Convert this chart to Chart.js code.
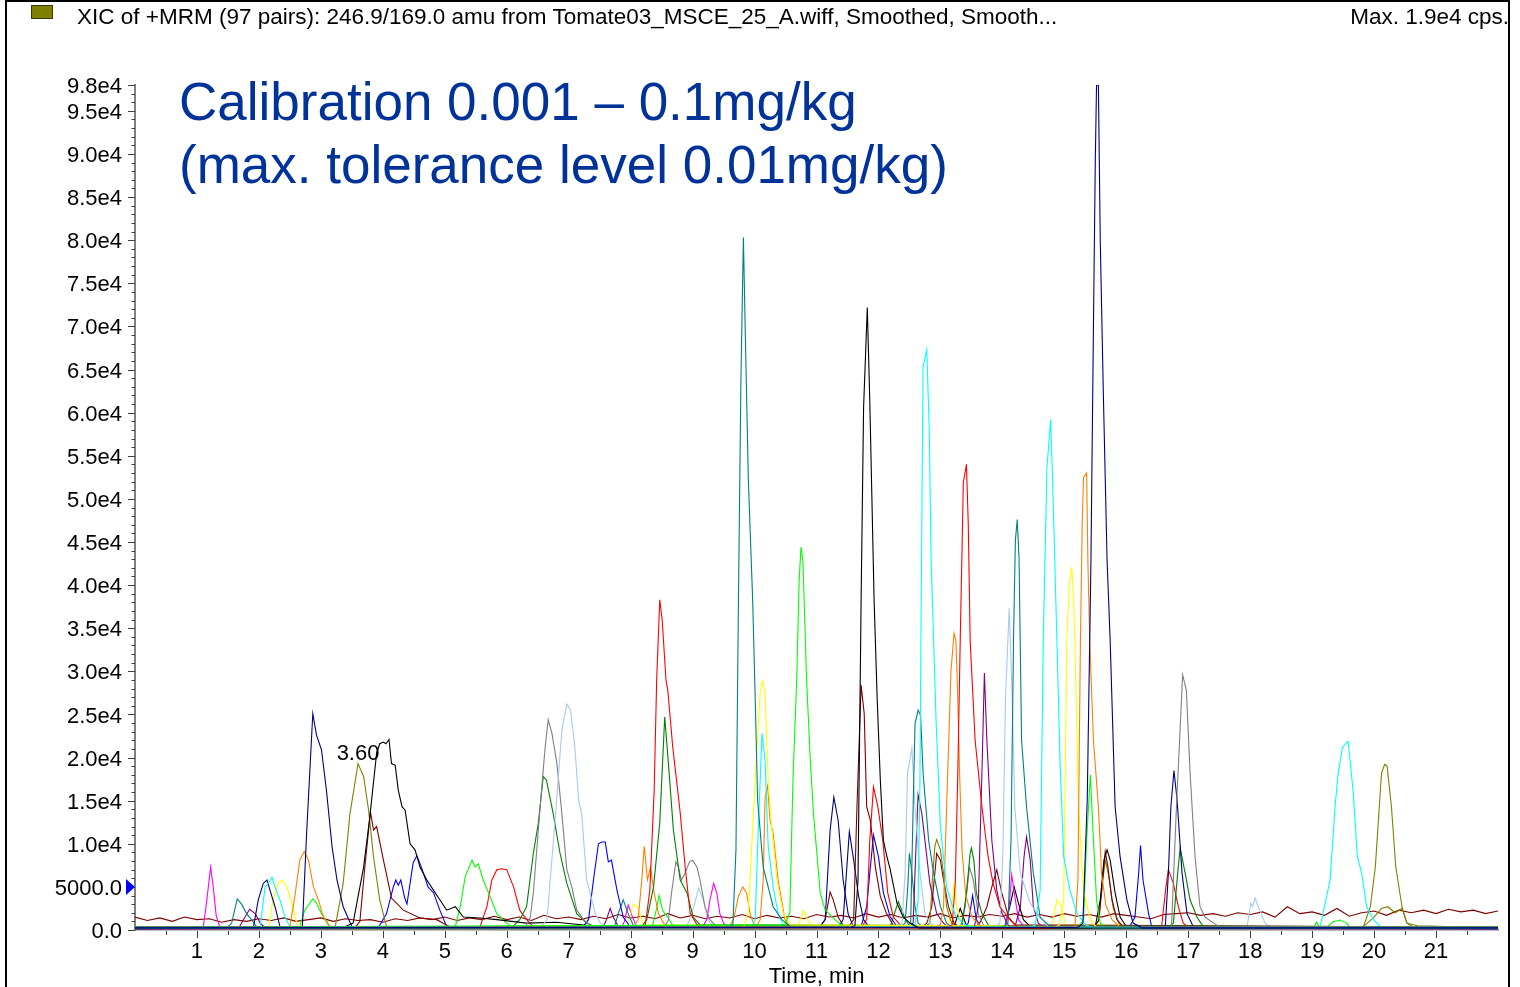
<!DOCTYPE html>
<html>
<head>
<meta charset="utf-8">
<title>XIC of +MRM (97 pairs)</title>
<script src="https://cdn.jsdelivr.net/npm/chart.js@4.4.1/dist/chart.umd.min.js"></script>
<style>
  html, body { margin: 0; padding: 0; background: #fff; overflow: hidden; }
  body { width: 1520px; height: 987px; position: relative; font-family: "Liberation Sans", Arial, sans-serif; }
  #frame { position: absolute; left: 5px; top: 0; width: 1501px; height: 1000px; border: 2px solid #000; box-sizing: content-box; pointer-events: none; }
  #chart { position: absolute; left: 0; top: 0; }
  #swatch { position: absolute; left: 31px; top: 5px; width: 20px; height: 12px; background: #808000; border: 1px solid #3a3a00; }
  .head { position: absolute; top: 6px; font-size: 22.5px; line-height: 22px; color: #000; white-space: nowrap; }
  #headLeft { left: 77px; }
  #headRight { right: 11px; }
  #bigTitle { position: absolute; left: 179px; top: 71px; font-size: 53px; line-height: 62.6px; color: #003399; white-space: nowrap; }
</style>
</head>
<body>
<canvas id="chart" width="1520" height="987"></canvas>
<div id="frame"></div>
<div id="swatch"></div>
<div class="head" id="headLeft">XIC of +MRM (97 pairs): 246.9/169.0 amu from Tomate03_MSCE_25_A.wiff, Smoothed, Smooth...</div>
<div class="head" id="headRight">Max. 1.9e4 cps.</div>
<div id="bigTitle">Calibration 0.001 – 0.1mg/kg<br>(max. tolerance level 0.01mg/kg)</div>
<script>
// ---- axis ticks ----
const xTickValues = [1,2,3,4,5,6,7,8,9,10,11,12,13,14,15,16,17,18,19,20,21];
const xTickLabels = ['1','2','3','4','5','6','7','8','9','10','11','12','13','14','15','16','17','18','19','20','21'];
const yTickValues = [0,5000,10000,15000,20000,25000,30000,35000,40000,45000,50000,55000,60000,65000,70000,75000,80000,85000,90000,95000,98000];
const yTickLabels = ['0.0','5000.0','1.0e4','1.5e4','2.0e4','2.5e4','3.0e4','3.5e4','4.0e4','4.5e4','5.0e4','5.5e4','6.0e4','6.5e4','7.0e4','7.5e4','8.0e4','8.5e4','9.0e4','9.5e4','9.8e4'];
const thresholdLevel = 5000;

// ---- extracted ion chromatograms: [time (min), intensity (cps)] ----
const pkMagenta122 = [[0,200],[1.10,250],[1.16,3500],[1.22,7300],[1.26,5200],[1.31,1700],[1.37,300],[22,200]];
const pkTeal165 = [[0,300],[1.50,350],[1.56,800],[1.65,3600],[1.72,3000],[1.80,1900],[1.88,1200],[1.96,400],[22,300]];
const pkPurple185 = [[0,250],[1.68,300],[1.75,1200],[1.85,2400],[1.94,1900],[2.02,800],[2.10,300],[22,250]];
const pkNavy213 = [[0,200],[1.91,250],[1.99,3500],[2.07,5400],[2.13,5800],[2.18,4600],[2.26,2700],[2.34,400],[22,200]];
const pkCyan221 = [[0,300],[2.02,400],[2.10,5000],[2.17,5600],[2.21,6100],[2.26,5000],[2.34,3500],[2.42,1500],[2.50,400],[22,300]];
const pkYellow238 = [[0,200],[2.15,200],[2.23,3500],[2.31,5400],[2.38,5800],[2.45,5000],[2.53,3100],[2.61,800],[2.70,200],[22,200]];
const pkOrange273 = [[0,250],[2.50,400],[2.58,3900],[2.66,8100],[2.73,9100],[2.80,8100],[2.88,5000],[2.96,3500],[3.04,1500],[3.15,250],[22,250]];
const pkLime287 = [[0,200],[2.66,400],[2.74,2300],[2.87,3600],[2.93,3100],[3.01,1900],[3.15,400],[22,200]];
const pkNavy287 = [[0,150],[2.70,200],[2.77,11200],[2.87,25100],[2.93,22600],[3.01,20900],[3.09,16200],[3.18,9700],[3.26,5800],[3.36,2700],[3.50,400],[22,150]];
const pkOlive360 = [[0,300],[3.23,300],[3.36,5400],[3.47,13500],[3.60,19300],[3.69,17800],[3.77,13900],[3.85,8500],[3.95,3500],[4.06,400],[22,300]];
const pkBlack405 = [[0,200],[3.30,200],[3.36,300],[3.52,800],[3.69,7300],[3.79,13100],[3.90,20500],[3.95,21600],[4.01,21800],[4.05,21600],[4.10,22100],[4.14,19300],[4.20,19100],[4.25,16200],[4.31,14300],[4.36,13900],[4.44,10000],[4.52,9300],[4.60,7300],[4.71,5800],[4.82,4600],[4.92,3500],[5.03,2300],[5.17,2700],[5.30,1500],[5.57,1400],[5.84,1200],[6.32,800],[6.80,900],[7.20,600],[7.60,300],[22,200]];
const pkMaroon380 = [[0,200],[3.55,250],[3.63,1000],[3.71,7300],[3.80,13700],[3.85,11600],[3.90,12000],[4.01,8100],[4.14,3700],[4.33,2300],[4.60,1400],[4.87,1200],[5.10,300],[22,200]];
const pkBlue455 = [[0,300],[3.93,300],[4.06,1900],[4.17,5000],[4.21,5800],[4.25,5200],[4.29,5800],[4.35,3800],[4.39,3000],[4.49,7800],[4.55,8600],[4.60,7700],[4.66,6500],[4.73,5000],[4.82,4300],[4.92,2300],[5.03,400],[22,300]];
const pkLime544 = [[0,200],[5.10,200],[5.17,400],[5.25,2700],[5.33,6200],[5.44,8100],[5.49,7300],[5.54,7700],[5.62,5800],[5.73,3900],[5.84,1900],[6.00,800],[6.11,200],[22,200]];
const pkRed592 = [[0,250],[5.50,300],[5.57,400],[5.68,2700],[5.76,5800],[5.84,7000],[5.92,7100],[6.00,7000],[6.11,5000],[6.21,2300],[6.32,1200],[6.43,400],[22,250]];
const pkGreen659 = [[0,300],[6.10,400],[6.21,1200],[6.32,2700],[6.43,8900],[6.51,12400],[6.59,17800],[6.64,17400],[6.75,13500],[6.86,8900],[6.97,5400],[7.13,1900],[7.29,800],[7.45,300],[22,300]];
const pkGray667 = [[0,200],[6.30,300],[6.38,1500],[6.43,4300],[6.54,14300],[6.62,21200],[6.67,24400],[6.73,22800],[6.81,19300],[6.89,13500],[6.97,7000],[7.05,5000],[7.13,2300],[7.24,1200],[7.40,300],[22,200]];
const pkSky697 = [[0,250],[6.55,300],[6.65,1200],[6.78,12700],[6.89,23200],[6.97,26200],[7.03,25500],[7.10,21200],[7.16,15100],[7.21,13500],[7.29,5800],[7.43,1900],[7.51,800],[7.65,250],[22,250]];
const pkBlue755 = [[0,200],[7.22,300],[7.32,1200],[7.40,5800],[7.48,10000],[7.53,10200],[7.59,10200],[7.64,7900],[7.69,8100],[7.78,4600],[7.88,1500],[7.99,400],[22,200]];
const pkPurple767 = [[0,200],[7.55,250],[7.61,1200],[7.67,2500],[7.72,1500],[7.80,400],[22,200]];
const pkTeal788 = [[0,300],[7.74,400],[7.80,1900],[7.88,3500],[7.96,1900],[8.05,400],[22,300]];
const pkMagenta796 = [[0,150],[7.85,200],[7.90,1000],[7.96,2900],[8.03,1500],[8.10,300],[22,150]];
const pkYellow804 = [[0,200],[7.95,500],[8.04,3000],[8.12,2600],[8.20,600],[22,200]];
const pkOrange822 = [[0,250],[8.05,300],[8.12,1200],[8.18,5800],[8.22,9700],[8.27,5800],[8.32,7300],[8.38,4300],[8.45,1900],[8.53,800],[8.65,250],[22,250]];
const pkRed847 = [[0,200],[8.23,200],[8.31,4600],[8.38,16200],[8.42,29000],[8.47,38300],[8.51,35900],[8.57,29000],[8.60,27800],[8.68,21200],[8.80,13600],[8.88,7300],[8.96,2000],[9.07,600],[9.20,200],[22,200]];
const pkGreen855 = [[0,350],[8.18,400],[8.26,1200],[8.37,5000],[8.47,12400],[8.55,24700],[8.61,19300],[8.69,11600],[8.80,5800],[8.91,4300],[9.01,1500],[9.12,600],[22,350]];
const pkLime846 = [[0,150],[8.35,400],[8.42,2500],[8.46,4000],[8.52,2200],[8.60,1500],[8.70,300],[22,150]];
const pkGray873 = [[0,250],[8.55,300],[8.61,1200],[8.66,4300],[8.73,7900],[8.77,7300],[8.82,5800],[8.88,6600],[8.95,7900],[9.00,8100],[9.07,7300],[9.12,5800],[9.20,2700],[9.28,1200],[9.40,300],[22,250]];
const pkSky910 = [[0,200],[8.90,300],[8.99,1900],[9.10,4900],[9.17,3500],[9.25,1200],[9.35,300],[22,200]];
const pkMagenta934 = [[0,150],[9.15,250],[9.23,1200],[9.28,3500],[9.34,5400],[9.39,4300],[9.44,1900],[9.50,800],[9.60,200],[22,150]];
const pkOrange981 = [[0,250],[9.58,300],[9.66,1200],[9.74,3900],[9.81,5000],[9.87,4300],[9.93,1900],[9.98,800],[10.08,300],[22,250]];
const pkTeal982 = [[0,300],[9.60,350],[9.65,600],[9.70,9300],[9.74,38200],[9.78,63700],[9.82,80300],[9.85,69500],[9.90,52200],[9.97,38200],[10.01,27000],[10.05,15000],[10.14,7300],[10.30,2700],[10.44,1200],[10.60,300],[22,300]];
const pkYellow1013 = [[0,200],[9.82,300],[9.90,2000],[10.01,17400],[10.09,27500],[10.13,28900],[10.17,27500],[10.22,17400],[10.28,11600],[10.36,5800],[10.46,2000],[10.57,600],[22,200]];
const pkCyan1012 = [[0,250],[9.95,300],[10.01,1200],[10.06,11600],[10.12,22800],[10.17,19700],[10.22,9700],[10.30,5000],[10.38,1900],[10.48,300],[22,250]];
const pkOrange1021 = [[0,200],[10.02,300],[10.09,1200],[10.14,5800],[10.17,15400],[10.21,16700],[10.25,12700],[10.30,11200],[10.38,5800],[10.49,1200],[10.60,200],[22,200]];
const pkLime1075 = [[0,300],[10.49,600],[10.57,2000],[10.62,17400],[10.68,29000],[10.72,40600],[10.75,44400],[10.78,42900],[10.84,29000],[10.90,19700],[10.95,13600],[11.06,4300],[11.14,2300],[11.30,1200],[11.45,300],[22,300]];
const pkYellow1079 = [[0,150],[10.70,300],[10.79,2300],[10.87,1000],[10.95,300],[22,150]];
const pkMaroon1122 = [[0,200],[11.05,300],[11.14,1200],[11.22,4400],[11.27,3500],[11.35,1500],[11.45,300],[22,200]];
const pkNavy1128 = [[0,250],[11.05,300],[11.14,1200],[11.22,11600],[11.28,15400],[11.35,12700],[11.43,5800],[11.51,1900],[11.60,300],[22,250]];
const pkNavy1153 = [[0,150],[11.35,250],[11.43,1200],[11.49,7300],[11.53,11400],[11.60,8100],[11.68,3900],[11.76,1200],[11.86,250],[22,150]];
const pkMaroon1172 = [[0,300],[11.52,400],[11.60,1200],[11.65,13600],[11.72,28400],[11.77,25100],[11.81,14300],[11.87,12700],[11.95,7300],[12.03,3900],[12.13,1900],[12.25,400],[22,300]];
const pkBlack1182 = [[0,250],[11.55,300],[11.62,500],[11.67,5800],[11.72,38200],[11.76,60600],[11.82,72200],[11.86,61400],[11.93,38200],[11.98,26700],[12.03,17400],[12.08,10400],[12.13,8700],[12.19,7000],[12.30,3100],[12.40,1500],[12.51,800],[12.65,250],[22,250]];
const pkRed1192 = [[0,200],[11.72,300],[11.81,1200],[11.86,10400],[11.92,16600],[11.99,14300],[12.07,10400],[12.15,4300],[12.24,1500],[12.35,600],[12.45,200],[22,200]];
const pkBlue1192 = [[0,300],[11.72,400],[11.81,2700],[11.86,6600],[11.92,11000],[12.00,8500],[12.08,4300],[12.19,1500],[12.30,400],[22,300]];
const pkGreen1232 = [[0,200],[12.12,300],[12.20,600],[12.32,3300],[12.42,1500],[12.50,400],[22,200]];
const pkTeal1250 = [[0,300],[12.36,350],[12.43,800],[12.47,4600],[12.50,8900],[12.54,6600],[12.59,2700],[12.64,800],[12.72,350],[22,300]];
const pkSky1254 = [[0,200],[12.30,300],[12.38,800],[12.43,6600],[12.47,18200],[12.54,21100],[12.59,14300],[12.67,6600],[12.75,1900],[12.83,800],[12.95,200],[22,200]];
const pkTeal1264 = [[0,250],[12.45,300],[12.52,800],[12.56,14300],[12.59,23900],[12.64,25500],[12.68,24900],[12.72,18200],[12.81,10400],[12.89,6600],[13.00,2700],[13.10,800],[13.20,250],[22,250]];
const pkCyan1278 = [[0,300],[12.50,350],[12.59,600],[12.64,3500],[12.67,17400],[12.69,38200],[12.72,65300],[12.78,67300],[12.82,58000],[12.85,42900],[12.89,33600],[12.93,24300],[13.00,11900],[13.10,5000],[13.24,1700],[13.40,600],[13.55,300],[22,300]];
const pkPurple1264 = [[0,200],[12.48,250],[12.56,800],[12.61,10400],[12.64,15700],[12.70,13500],[12.75,10400],[12.83,5400],[12.94,1900],[13.05,800],[13.15,200],[22,200]];
const pkOlive1294 = [[0,300],[12.75,350],[12.83,800],[12.87,5800],[12.91,9700],[12.94,10500],[13.00,9300],[13.05,6600],[13.10,2700],[13.18,800],[13.28,300],[22,300]];
const pkMaroon1294 = [[0,200],[12.70,300],[12.78,800],[12.86,2700],[12.94,8900],[13.00,8100],[13.05,5800],[13.13,2700],[13.22,800],[13.32,300],[22,200]];
const pkOrange1322 = [[0,250],[12.92,300],[13.00,600],[13.05,2700],[13.10,14300],[13.17,30000],[13.22,34400],[13.25,33600],[13.28,27000],[13.31,18000],[13.35,9000],[13.41,4000],[13.51,1500],[13.64,500],[13.75,250],[22,250]];
const pkRed1342 = [[0,300],[13.10,350],[13.19,600],[13.24,5400],[13.28,18000],[13.32,33600],[13.37,51900],[13.42,54000],[13.45,47000],[13.48,33600],[13.56,22000],[13.67,14300],[13.77,8500],[13.85,5400],[13.96,2700],[14.12,1200],[14.25,300],[22,300]];
const pkYellow1322 = [[0,200],[13.05,250],[13.12,400],[13.18,2500],[13.22,5400],[13.27,2500],[13.35,500],[22,200]];
const pkBlack1332 = [[0,150],[13.15,200],[13.22,400],[13.32,2500],[13.42,500],[22,150]];
const pkGray1347 = [[0,250],[13.25,300],[13.33,500],[13.40,2700],[13.47,7300],[13.53,5800],[13.61,1900],[13.70,500],[22,250]];
const pkGreen1350 = [[0,300],[13.28,350],[13.35,600],[13.42,4300],[13.48,8900],[13.50,9500],[13.54,8100],[13.58,4300],[13.67,1900],[13.78,500],[22,300]];
const pkBlue1352 = [[0,200],[13.38,250],[13.45,800],[13.52,4000],[13.58,1200],[13.66,250],[22,200]];
const pkPurple1371 = [[0,250],[13.48,300],[13.55,400],[13.61,2700],[13.67,18200],[13.71,29800],[13.75,22000],[13.83,10400],[13.91,4600],[13.99,2000],[14.10,500],[22,250]];
const pkMaroon1391 = [[0,300],[13.58,400],[13.65,1000],[13.75,2700],[13.83,5000],[13.91,7000],[13.99,4300],[14.10,1500],[14.20,600],[22,300]];
const pkSky1411 = [[0,300],[13.88,350],[13.96,800],[14.01,9300],[14.05,26700],[14.11,37300],[14.16,26700],[14.20,14300],[14.29,6600],[14.45,3100],[14.61,1400],[14.75,300],[22,300]];
const pkTeal1424 = [[0,200],[14.00,300],[14.09,800],[14.14,10400],[14.18,33600],[14.21,45200],[14.24,47600],[14.27,42900],[14.31,22000],[14.39,14300],[14.50,6600],[14.61,1500],[14.74,600],[14.85,200],[22,200]];
const pkPurple1439 = [[0,200],[14.20,300],[14.29,2700],[14.35,8500],[14.39,10800],[14.45,8100],[14.50,2700],[14.58,800],[14.68,200],[22,200]];
const pkMagenta1415 = [[0,150],[13.98,200],[14.05,400],[14.11,2700],[14.15,6400],[14.21,3500],[14.26,1200],[14.35,400],[22,150]];
const pkBlack1419 = [[0,200],[13.98,250],[14.04,400],[14.12,2700],[14.19,5000],[14.26,3100],[14.34,1200],[14.45,400],[22,200]];
const pkCyan1478 = [[0,250],[14.45,300],[14.53,600],[14.61,4600],[14.66,33600],[14.72,53700],[14.78,59200],[14.82,49800],[14.88,33600],[14.93,19700],[14.99,8500],[15.09,4600],[15.20,2000],[15.34,600],[15.45,250],[22,250]];
const pkYellow1488 = [[0,150],[14.72,200],[14.80,400],[14.88,3500],[14.95,2800],[15.02,600],[22,150]];
const pkYellow1512 = [[0,200],[14.85,300],[14.92,600],[14.99,3500],[15.04,33600],[15.08,40000],[15.12,42100],[15.15,38000],[15.17,33600],[15.23,14300],[15.31,4600],[15.42,1200],[15.52,300],[22,200]];
const pkOrange1536 = [[0,300],[15.10,300],[15.17,300],[15.22,5800],[15.26,33600],[15.29,47500],[15.31,52500],[15.36,53000],[15.38,42900],[15.41,33600],[15.47,22000],[15.55,14300],[15.60,6600],[15.67,2900],[15.77,1200],[15.90,300],[22,300]];
const pkLime1542 = [[0,200],[15.22,250],[15.31,1200],[15.36,10400],[15.42,18000],[15.47,10400],[15.52,3500],[15.58,800],[15.68,200],[22,200]];
const pkNavy1553 = [[0,250],[15.22,300],[15.30,800],[15.37,15100],[15.43,42900],[15.47,70000],[15.50,89200],[15.52,98000],[15.55,98000],[15.58,80000],[15.63,62200],[15.69,42900],[15.74,33600],[15.82,14300],[15.90,8500],[16.01,3500],[16.11,800],[16.25,250],[22,250]];
const pkBlack1569 = [[0,200],[15.42,300],[15.50,400],[15.58,3500],[15.64,8100],[15.69,9300],[15.74,8100],[15.82,4300],[15.90,1500],[16.00,400],[22,200]];
const pkMaroon1566 = [[0,300],[15.48,350],[15.56,1200],[15.62,6000],[15.66,9100],[15.70,7500],[15.77,3500],[15.85,1200],[15.95,400],[22,300]];
const pkOlive1566 = [[0,200],[15.47,250],[15.55,1000],[15.61,5000],[15.66,8100],[15.71,6500],[15.79,2500],[15.88,800],[15.98,250],[22,200]];
const pkBlue1623 = [[0,300],[16.05,350],[16.14,1500],[16.20,6600],[16.23,9800],[16.27,5800],[16.36,1900],[16.41,400],[22,300]];
const pkRed1668 = [[0,200],[16.48,250],[16.57,400],[16.64,5000],[16.68,7000],[16.76,5400],[16.84,2700],[16.92,800],[17.02,200],[22,200]];
const pkNavy1677 = [[0,250],[16.55,300],[16.63,400],[16.68,6600],[16.72,14300],[16.77,18500],[16.82,15100],[16.90,6600],[16.98,1900],[17.08,400],[22,250]];
const pkGreen1687 = [[0,300],[16.68,350],[16.76,800],[16.83,6600],[16.87,9500],[16.95,6600],[17.03,3500],[17.14,1500],[17.25,300],[22,300]];
const pkGray1691 = [[0,200],[16.65,250],[16.73,400],[16.81,14300],[16.91,29600],[16.97,27800],[17.03,18200],[17.11,8500],[17.19,2700],[17.27,1500],[17.41,800],[17.55,200],[22,200]];
const pkSky1808 = [[0,250],[17.88,300],[17.95,400],[18.01,3100],[18.04,2700],[18.08,3700],[18.13,2700],[18.24,800],[18.35,250],[22,250]];
const pkLime1945 = [[0,150],[18.98,200],[19.02,200],[19.07,900],[19.13,200],[19.25,400],[19.34,950],[19.45,1150],[19.56,800],[19.62,200],[22,150]];
const pkCyan1958 = [[0,200],[19.05,250],[19.13,400],[19.29,5800],[19.37,14300],[19.42,18200],[19.49,21200],[19.58,21900],[19.66,16200],[19.73,8500],[19.80,6600],[19.88,2700],[19.99,1200],[20.10,400],[22,200]];
const pkOlive2017 = [[0,300],[19.75,350],[19.83,400],[19.94,2700],[20.02,7300],[20.07,12700],[20.12,18200],[20.17,19200],[20.21,19000],[20.28,14300],[20.35,7300],[20.45,2700],[20.53,800],[20.65,300],[22,300]];
const pkOlive2022 = [[0,250],[19.83,400],[20.00,1500],[20.12,2500],[20.22,2700],[20.34,2000],[20.45,2500],[20.53,800],[20.70,500],[22,250]];

// noisy background transition running the whole gradient
const maroonBackground = [[0.0,1500],[0.2,1100],[0.4,1400],[0.6,1000],[0.8,1500],[1.0,1200],[1.2,1300],[1.4,900],[1.6,1200],[1.8,1000],
  [2.0,1300],[2.2,1100],[2.4,1400],[2.6,1000],[2.8,1200],[3.0,1400],[3.2,1000],[3.4,1300],[3.6,1100],[3.8,1200],
  [4.0,900],[4.2,1300],[4.4,1100],[4.6,1400],[4.8,1200],[5.0,1500],[5.2,1100],[5.4,1400],[5.6,1200],[5.8,1600],
  [6.0,1200],[6.2,1500],[6.4,1100],[6.6,1700],[6.8,1300],[7.0,1500],[7.2,1200],[7.4,1600],[7.6,1300],[7.8,1800],
  [8.0,1400],[8.2,1600],[8.4,1300],[8.6,1900],[8.8,1400],[9.0,1700],[9.2,1300],[9.4,1600],[9.6,1400],[9.8,1800],
  [10.0,1300],[10.2,1700],[10.4,1400],[10.6,1600],[10.8,1300],[11.0,1800],[11.2,1500],[11.4,1700],[11.6,1400],[11.8,1900],
  [12.0,1500],[12.2,1800],[12.4,1400],[12.6,1700],[12.8,1500],[13.0,1900],[13.2,1400],[13.4,1700],[13.6,1500],[13.8,1800],
  [14.0,1600],[14.2,1900],[14.4,1500],[14.6,1800],[14.8,1500],[15.0,1900],[15.2,1600],[15.4,1800],[15.6,1500],[15.8,1900],
  [16.0,1700],[16.2,1500],[16.4,1300],[16.6,1800],[16.8,1900],[17.0,2000],[17.2,1700],[17.4,1900],[17.6,1600],[17.8,2000],
  [18.0,1800],[18.2,2100],[18.4,1500],[18.6,2700],[18.8,1900],[19.0,2100],[19.2,1700],[19.4,2500],[19.6,1600],[19.8,2000],
  [20.0,2200],[20.2,1700],[20.4,2300],[20.6,2000],[20.8,2300],[21.0,1900],[21.2,2400],[21.4,2100],[21.6,2300],[21.8,1900],[22.0,2200]];

// ---- trace colours (Analyst palette) ----
const COL = {
  navy: '#000080', black: '#000000', maroon: '#800000', blue: '#0000FF', red: '#FF0000',
  lime: '#00FF00', green: '#008000', teal: '#008080', cyan: '#00FFFF', yellow: '#FFFF00',
  orange: '#FF8000', magenta: '#FF00FF', purple: '#800080', gray: '#808080', sky: '#A6CAF0', olive: '#808000'
};

const traces = [
  [pkNavy1553, COL.navy], [pkTeal982, COL.teal], [pkBlack1182, COL.black], [pkCyan1278, COL.cyan],
  [pkCyan1478, COL.cyan], [pkRed1342, COL.red], [pkOrange1536, COL.orange], [pkTeal1424, COL.teal],
  [pkLime1075, COL.lime], [pkYellow1512, COL.yellow], [pkRed847, COL.red], [pkSky1411, COL.sky],
  [pkOrange1322, COL.orange], [pkPurple1371, COL.purple], [pkGray1691, COL.gray], [pkYellow1013, COL.yellow],
  [pkMaroon1172, COL.maroon], [pkSky697, COL.sky], [pkTeal1264, COL.teal], [pkNavy287, COL.navy],
  [pkGreen855, COL.green], [pkGray667, COL.gray], [pkCyan1012, COL.cyan], [pkBlack405, COL.black],
  [pkCyan1958, COL.cyan], [pkSky1254, COL.sky], [pkOlive360, COL.olive], [pkOlive2017, COL.olive],
  [pkNavy1677, COL.navy], [pkLime1542, COL.lime], [pkGreen659, COL.green], [pkOrange1021, COL.orange],
  [pkRed1192, COL.red], [pkPurple1264, COL.purple], [pkNavy1128, COL.navy], [pkMaroon380, COL.maroon],
  [pkNavy1153, COL.navy], [pkBlue1192, COL.blue], [pkPurple1439, COL.purple], [pkOlive1294, COL.olive],
  [pkBlue755, COL.blue], [pkBlue1623, COL.blue], [pkOrange822, COL.orange], [pkGreen1687, COL.green],
  [pkGreen1350, COL.green], [pkBlack1569, COL.black], [pkMaroon1566, COL.maroon], [pkOlive1566, COL.olive],
  [pkOrange273, COL.orange], [pkTeal1250, COL.teal], [pkMaroon1294, COL.maroon], [pkBlue455, COL.blue],
  [pkLime544, COL.lime], [pkGray873, COL.gray], [pkMagenta122, COL.magenta], [pkGray1347, COL.gray],
  [pkRed592, COL.red], [pkRed1668, COL.red], [pkMaroon1391, COL.maroon], [pkMagenta1415, COL.magenta],
  [pkCyan221, COL.cyan], [pkNavy213, COL.navy], [pkYellow238, COL.yellow], [pkMagenta934, COL.magenta],
  [pkBlack1419, COL.black], [pkYellow1322, COL.yellow], [pkOrange981, COL.orange], [pkSky910, COL.sky],
  [pkMaroon1122, COL.maroon], [pkBlue1352, COL.blue], [pkLime846, COL.lime], [pkTeal165, COL.teal],
  [pkLime287, COL.lime], [pkTeal788, COL.teal], [pkSky1808, COL.sky], [pkYellow1488, COL.yellow],
  [pkGreen1232, COL.green], [pkYellow804, COL.yellow], [pkMagenta796, COL.magenta], [pkBlack1332, COL.black],
  [pkPurple767, COL.purple], [pkPurple185, COL.purple], [pkYellow1079, COL.yellow], [pkOlive2022, COL.olive],
  [pkLime1945, COL.lime], [maroonBackground, COL.maroon]
];

const datasets = traces.map(([pts, colour]) => ({
  data: pts.map(([t, v]) => ({ x: t, y: v })),
  borderColor: colour,
  borderWidth: 1.1,
  showLine: true,
  pointRadius: 0,
  tension: 0,
  fill: false
}));

const FONT = '"Liberation Sans", Arial, sans-serif';

// tick marks, threshold marker and the retention-time annotation
const decorations = {
  id: 'decorations',
  afterDraw(chart) {
    const { ctx, scales: { x, y } } = chart;
    ctx.save();
    // y ticks: long at labelled values, short every 1000 cps
    ctx.strokeStyle = '#404040';
    ctx.lineWidth = 1;
    ctx.beginPath();
    for (let v = 0; v <= y.max; v += 1000) {
      const py = Math.round(y.getPixelForValue(v)) + 0.5;
      const len = yTickValues.includes(v) ? 7 : 3.5;
      ctx.moveTo(y.right - len, py);
      ctx.lineTo(y.right, py);
    }
    // x ticks: long at whole minutes, short at half minutes
    for (let t = 0.5; t < x.max; t += 0.5) {
      const px = Math.round(x.getPixelForValue(t)) + 0.5;
      const len = Number.isInteger(t) ? 7 : 4;
      ctx.moveTo(px, x.top + 1);
      ctx.lineTo(px, x.top + 1 + len);
    }
    ctx.stroke();

    // threshold marker on the intensity axis
    const ty = y.getPixelForValue(thresholdLevel);
    ctx.fillStyle = '#0000FF';
    ctx.beginPath();
    ctx.moveTo(y.right - 9, ty - 8);
    ctx.lineTo(y.right, ty);
    ctx.lineTo(y.right - 9, ty + 8);
    ctx.closePath();
    ctx.fill();

    // apex label of the selected (olive) trace
    let apex = pkOlive360[0];
    for (const p of pkOlive360) if (p[1] > apex[1]) apex = p;
    ctx.fillStyle = '#000';
    ctx.font = '22px ' + FONT;
    ctx.textAlign = 'center';
    ctx.textBaseline = 'alphabetic';
    ctx.fillText(apex[0].toFixed(2), x.getPixelForValue(apex[0]), y.getPixelForValue(apex[1]) - 3.5);
    ctx.restore();
  }
};

new Chart(document.getElementById('chart'), {
  type: 'scatter',
  data: { datasets },
  options: {
    responsive: false,
    animation: false,
    devicePixelRatio: 1,
    layout: { padding: { top: 85, right: 22, left: 0, bottom: 0 } },
    plugins: { legend: { display: false }, tooltip: { enabled: false } },
    scales: {
      x: {
        type: 'linear', min: 0, max: 22,
        afterFit(s) { s.height = 57; },
        afterBuildTicks(s) { s.ticks = xTickValues.map(v => ({ value: v })); },
        ticks: {
          autoSkip: false, maxRotation: 0, padding: 9, color: '#000',
          font: { family: FONT, size: 22 },
          callback: (v, i) => xTickLabels[i]
        },
        grid: { display: false, drawTicks: false },
        border: { display: true, color: '#808080', width: 1.5 },
        title: { display: true, text: 'Time, min', color: '#000', font: { family: FONT, size: 22, lineHeight: 0.91 }, padding: { top: 0, bottom: 0 } }
      },
      y: {
        type: 'linear', min: 0, max: 98000,
        afterFit(s) { s.width = 135; },
        afterBuildTicks(s) { s.ticks = yTickValues.map(v => ({ value: v })); },
        ticks: {
          autoSkip: false, padding: 13, labelOffset: 2, color: '#000',
          font: { family: FONT, size: 22 },
          callback: (v, i) => yTickLabels[i]
        },
        grid: { display: false, drawTicks: false },
        border: { display: true, color: '#808080', width: 2 }
      }
    }
  },
  plugins: [decorations]
});
</script>
</body>
</html>
